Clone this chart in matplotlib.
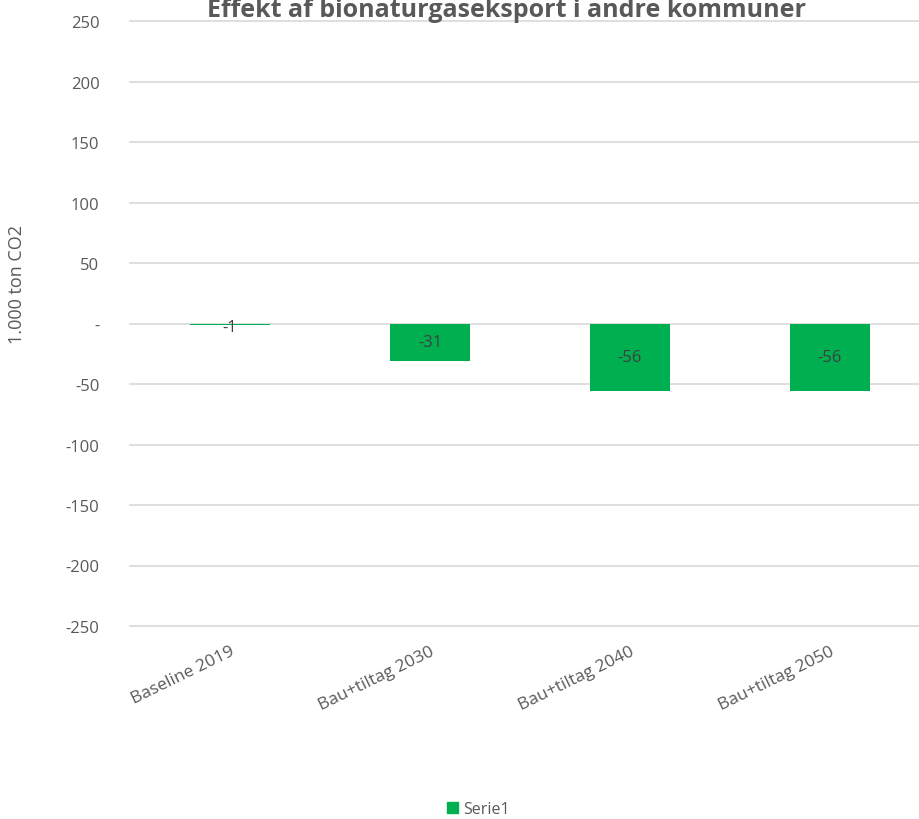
import matplotlib.pyplot as plt
from matplotlib.patches import Patch

categories = ["Baseline 2019", "Bau+tiltag 2030", "Bau+tiltag 2040", "Bau+tiltag 2050"]
values = [-1, -31, -56, -56]
labels = ["-1", "-31", "-56", "-56"]
yticks = [250, 200, 150, 100, 50, 0, -50, -100, -150, -200, -250]
yticklabels = ["250", "200", "150", "100", "50", "-", "-50", "-100", "-150", "-200", "-250"]

plt.rcParams['font.family'] = ['Open Sans', 'DejaVu Sans']
grey = "#595959"
green = "#00B050"

fig = plt.figure(figsize=(9.2, 8.2), dpi=100)
ax = fig.add_axes([130 / 920, 193 / 820, 800 / 920, 605 / 820])

pos = range(len(categories))
ax.bar(pos, values, width=0.4, color=green, zorder=3)
for x, v, t in zip(pos, values, labels):
    ax.text(x, v / 2 if v < -5 else -3, t, ha='center', va='center',
            fontsize=12, color="#404040", zorder=4)

ax.set_xlim(-0.5, 3.5)
ax.set_ylim(-250, 250)
ax.set_yticks(yticks)
ax.set_yticklabels(yticklabels, fontsize=12, color=grey)
ax.set_xticks(list(pos))
ax.set_xticklabels(categories, fontsize=12.5, color=grey, rotation=26,
                   ha='right', rotation_mode='anchor')
ax.tick_params(length=0, pad=12)
ax.tick_params(axis='y', pad=22)
ax.grid(axis='y', color="#D9D9D9", linewidth=1.2, zorder=0)
for gl in ax.get_ygridlines():
    gl.set_clip_on(False)
for s in ax.spines.values():
    s.set_visible(False)

# y label placed by hand, as in the original
fig.text(17 / 920, (820 - 285) / 820, "1.000 ton CO2", rotation=90, ha='center',
         va='center', fontsize=13, color=grey)
fig.text(507 / 920, (820 - 17) / 820, "Effekt af bionaturgaseksport i andre kommuner",
         ha='center', va='baseline', fontsize=18, fontweight='bold', color=grey)

fig.legend(handles=[Patch(color=green, label="Serie1")], loc='center',
           bbox_to_anchor=(478 / 920, 10 / 820), frameon=False, fontsize=11.5,
           handlelength=0.7, handleheight=0.7, handletextpad=0.3,
           labelcolor=grey)

fig.savefig("out.png", dpi=100)
